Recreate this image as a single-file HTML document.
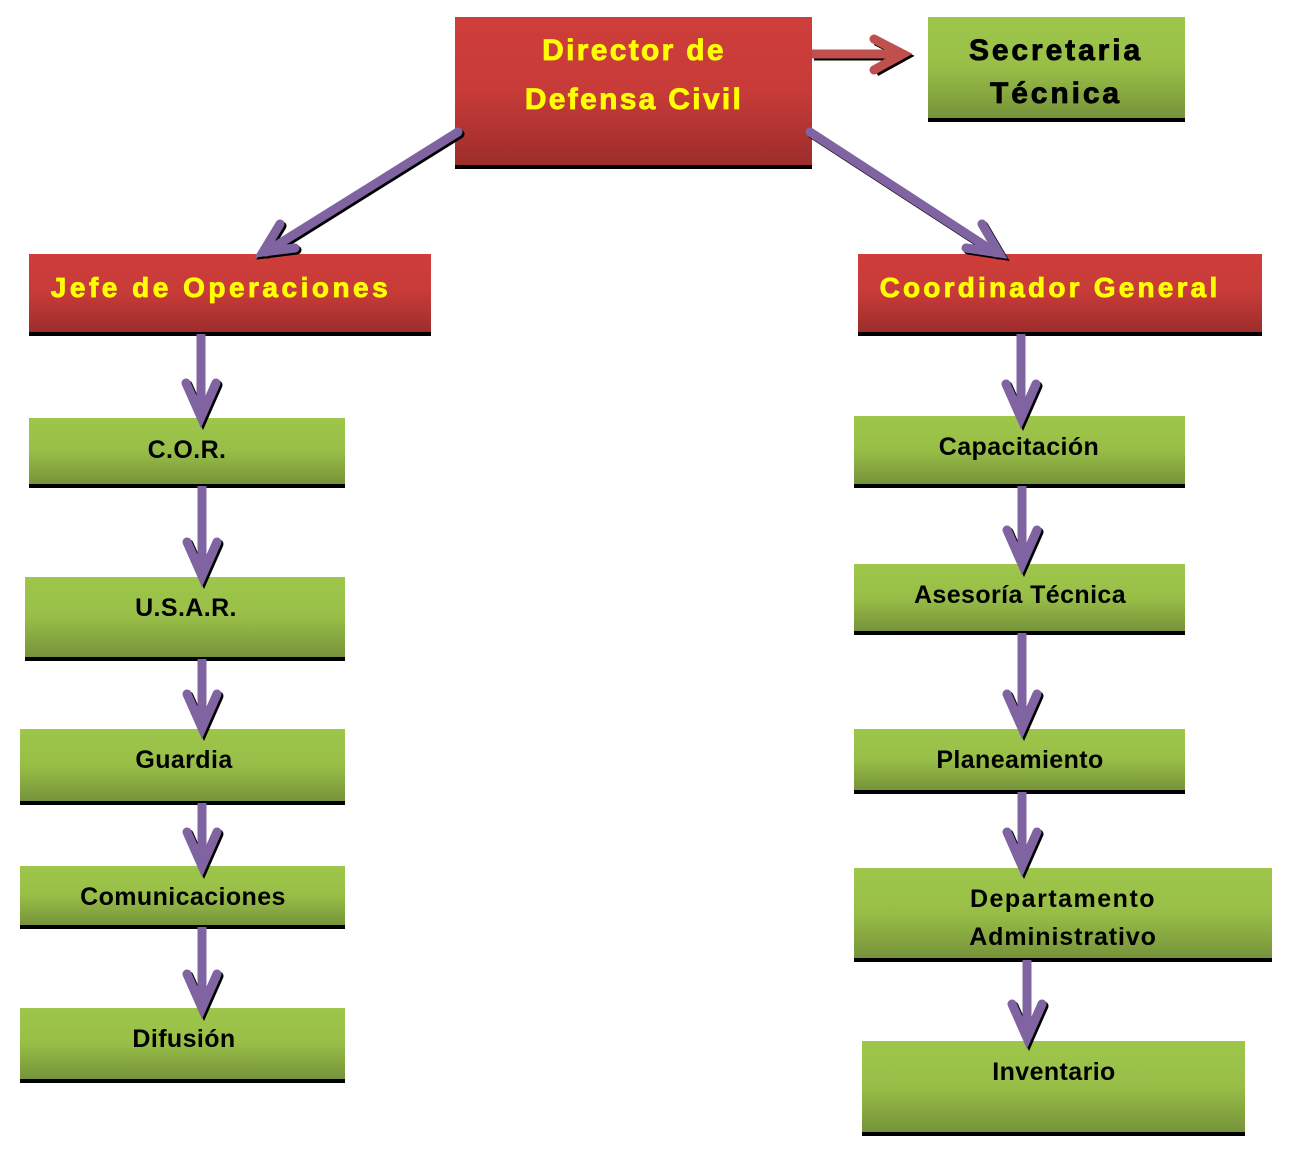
<!DOCTYPE html>
<html>
<head>
<meta charset="utf-8">
<style>
html,body{margin:0;padding:0;background:#fff;}
svg{display:block;}
text{font-family:"Liberation Sans",Arial,sans-serif;font-weight:bold;}
</style>
</head>
<body>
<svg width="1292" height="1156" viewBox="0 0 1292 1156" xmlns="http://www.w3.org/2000/svg">
<defs>
  <linearGradient id="red" x1="0" y1="0" x2="0" y2="1">
    <stop offset="0" stop-color="#CE3E3B"/>
    <stop offset="0.5" stop-color="#C73B38"/>
    <stop offset="1" stop-color="#9D2D2B"/>
  </linearGradient>
  <linearGradient id="green" x1="0" y1="0" x2="0" y2="1">
    <stop offset="0" stop-color="#9EC64B"/>
    <stop offset="0.5" stop-color="#98BE47"/>
    <stop offset="1" stop-color="#76933A"/>
  </linearGradient>
</defs>

<!-- Boxes: black shadow then fill -->
<g>
  <rect x="455" y="21" width="357" height="148" fill="#000"/>
  <rect x="455" y="17" width="357" height="148" fill="url(#red)"/>
  <rect x="928" y="21" width="257" height="101" fill="#000"/>
  <rect x="928" y="17" width="257" height="101" fill="url(#green)"/>
  <rect x="29" y="258" width="402" height="78" fill="#000"/>
  <rect x="29" y="254" width="402" height="78" fill="url(#red)"/>
  <rect x="858" y="258" width="404" height="78" fill="#000"/>
  <rect x="858" y="254" width="404" height="78" fill="url(#red)"/>

  <rect x="29" y="422" width="316" height="66" fill="#000"/>
  <rect x="29" y="418" width="316" height="66" fill="url(#green)"/>
  <rect x="25" y="581" width="320" height="80" fill="#000"/>
  <rect x="25" y="577" width="320" height="80" fill="url(#green)"/>
  <rect x="20" y="733" width="325" height="72" fill="#000"/>
  <rect x="20" y="729" width="325" height="72" fill="url(#green)"/>
  <rect x="20" y="870" width="325" height="59" fill="#000"/>
  <rect x="20" y="866" width="325" height="59" fill="url(#green)"/>
  <rect x="20" y="1012" width="325" height="71" fill="#000"/>
  <rect x="20" y="1008" width="325" height="71" fill="url(#green)"/>

  <rect x="854" y="420" width="331" height="68" fill="#000"/>
  <rect x="854" y="416" width="331" height="68" fill="url(#green)"/>
  <rect x="854" y="568" width="331" height="67" fill="#000"/>
  <rect x="854" y="564" width="331" height="67" fill="url(#green)"/>
  <rect x="854" y="733" width="331" height="61" fill="#000"/>
  <rect x="854" y="729" width="331" height="61" fill="url(#green)"/>
  <rect x="854" y="872" width="418" height="90" fill="#000"/>
  <rect x="854" y="868" width="418" height="90" fill="url(#green)"/>
  <rect x="862" y="1045" width="383" height="91" fill="#000"/>
  <rect x="862" y="1041" width="383" height="91" fill="url(#green)"/>
</g>

<!-- Arrow shadows -->
<g fill="none" stroke="#000" stroke-width="9" stroke-linecap="round" stroke-linejoin="miter" transform="translate(2,2)">
  <path d="M812 54 L902 54 M874 39 L903 54 L874 70" stroke-linecap="butt"/>
  <path d="M458 132 L266 252"/>
  <path d="M280 224 L263 252 L295 248"/>
  <path d="M810 132 L996 253"/>
  <path d="M982 224 L999 253 L966 248"/>
  <path d="M186 383 L201 417 L216 383"/>
  <path d="M187 542 L202 576 L217 542"/>
  <path d="M187 694 L202 728 L217 694"/>
  <path d="M187 832 L202 866 L217 832"/>
  <path d="M187 974 L202 1008 L217 974"/>
  <path d="M1006 384 L1021 418 L1036 384"/>
  <path d="M1007 530 L1022 564 L1037 530"/>
  <path d="M1007 694 L1022 728 L1037 694"/>
  <path d="M1007 832 L1022 866 L1037 832"/>
  <path d="M1012 1004 L1027 1038 L1042 1004"/>
</g>

<!-- Red arrow -->
<g fill="none" stroke="#C0504D" stroke-width="9" stroke-linejoin="miter">
  <path d="M812 54 L902 54"/>
  <path d="M874 39 L903 54 L874 70" stroke-linecap="round"/>
</g>

<!-- Purple arrows -->
<g fill="none" stroke="#8064A2" stroke-width="9" stroke-linecap="round" stroke-linejoin="miter">
  <path d="M458 132 L266 252"/>
  <path d="M280 224 L263 252 L295 248"/>
  <path d="M810 132 L996 253"/>
  <path d="M982 224 L999 253 L966 248"/>

  <path d="M201 334 L201 414" stroke-linecap="butt"/>
  <path d="M186 383 L201 417 L216 383"/>
  <path d="M202 486 L202 573" stroke-linecap="butt"/>
  <path d="M187 542 L202 576 L217 542"/>
  <path d="M202 659 L202 725" stroke-linecap="butt"/>
  <path d="M187 694 L202 728 L217 694"/>
  <path d="M202 803 L202 863" stroke-linecap="butt"/>
  <path d="M187 832 L202 866 L217 832"/>
  <path d="M202 927 L202 1005" stroke-linecap="butt"/>
  <path d="M187 974 L202 1008 L217 974"/>

  <path d="M1021 334 L1021 415" stroke-linecap="butt"/>
  <path d="M1006 384 L1021 418 L1036 384"/>
  <path d="M1022 486 L1022 561" stroke-linecap="butt"/>
  <path d="M1007 530 L1022 564 L1037 530"/>
  <path d="M1022 633 L1022 725" stroke-linecap="butt"/>
  <path d="M1007 694 L1022 728 L1037 694"/>
  <path d="M1022 792 L1022 863" stroke-linecap="butt"/>
  <path d="M1007 832 L1022 866 L1037 832"/>
  <path d="M1027 960 L1027 1035" stroke-linecap="butt"/>
  <path d="M1012 1004 L1027 1038 L1042 1004"/>
</g>

<!-- Header texts -->
<g fill="#FFFF00" stroke="#FFFF00" stroke-width="0.8" text-anchor="middle">
  <text x="634" y="60" font-size="30" letter-spacing="2.3">Director de</text>
  <text x="634" y="109" font-size="30" letter-spacing="2.3">Defensa Civil</text>
  <text x="221" y="297" font-size="28" letter-spacing="3.5">Jefe de Operaciones</text>
  <text x="1050" y="297" font-size="28" letter-spacing="3.2">Coordinador General</text>
</g>
<g fill="#000" stroke="#000" stroke-width="0.8" text-anchor="middle">
  <text x="1056" y="60" font-size="30" letter-spacing="2.9">Secretaria</text>
  <text x="1056" y="103" font-size="30" letter-spacing="2.9">Técnica</text>
</g>

<!-- Green box texts -->
<g fill="#000" text-anchor="middle" font-size="25" letter-spacing="0.4">
  <text x="187" y="458">C.O.R.</text>
  <text x="186" y="616">U.S.A.R.</text>
  <text x="184" y="768">Guardia</text>
  <text x="183" y="905">Comunicaciones</text>
  <text x="184" y="1047">Difusión</text>

  <text x="1019" y="455">Capacitación</text>
  <text x="1020" y="603">Asesoría Técnica</text>
  <text x="1020" y="768">Planeamiento</text>
  <text x="1063" y="907" letter-spacing="1.5">Departamento</text>
  <text x="1063" y="945" letter-spacing="0.9">Administrativo</text>
  <text x="1054" y="1080">Inventario</text>
</g>
</svg>
</body>
</html>
